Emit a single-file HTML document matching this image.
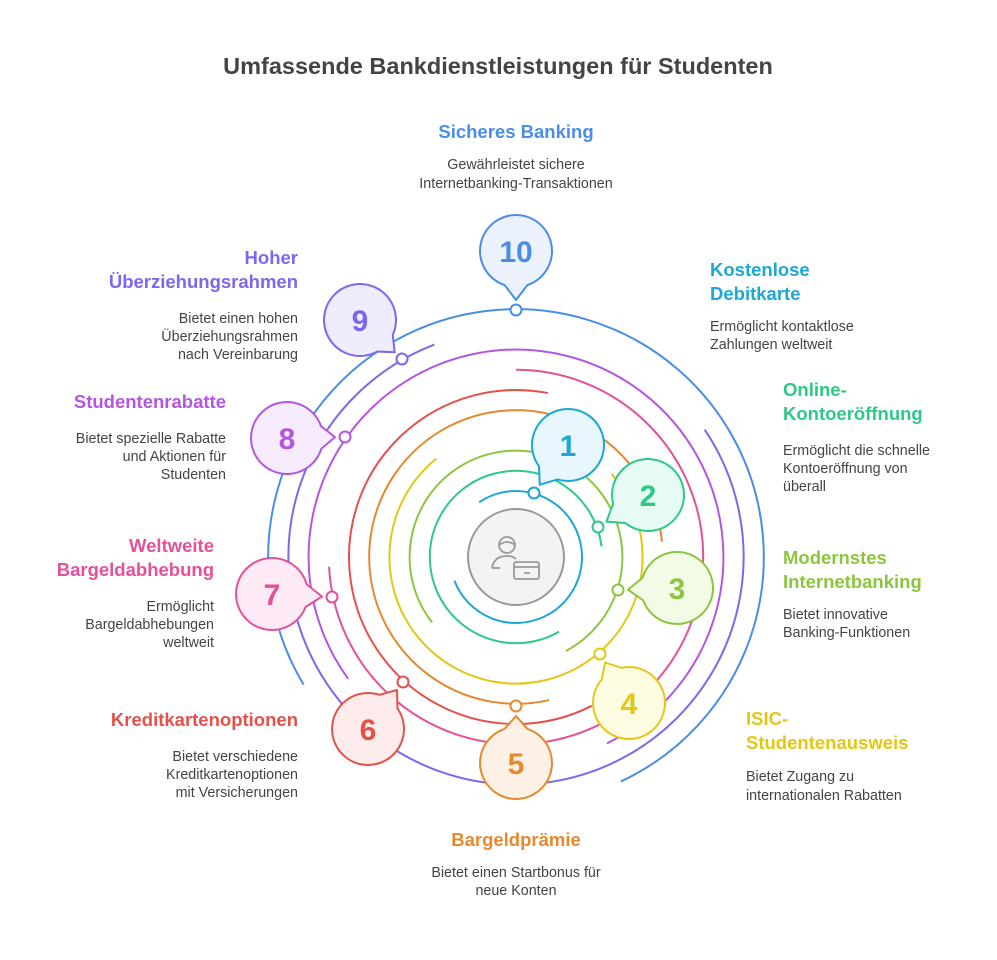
<!DOCTYPE html>
<html><head><meta charset="utf-8"><style>
html,body{margin:0;padding:0;background:#fff;}
svg{display:block;font-family:"Liberation Sans",sans-serif;}
.h{font-weight:bold;font-size:18.5px;}
.d{font-size:14.3px;fill:#444;}
.n{font-weight:bold;font-size:30px;text-anchor:middle;}
</style></head><body>
<svg id="s" width="997" height="960" viewBox="0 0 997 960" xmlns="http://www.w3.org/2000/svg">
<rect width="997" height="960" fill="#fff"/>
<text x="498" y="74" text-anchor="middle" font-weight="bold" font-size="23.5" fill="#444">Umfassende Bankdienstleistungen für Studenten</text>
<g id="arcs" fill="none" stroke-width="2"></g>
<circle cx="516" cy="557" r="48" fill="#f3f3f3" stroke="#999" stroke-width="2"/>
<g fill="none" stroke="#999" stroke-width="1.8">
<circle cx="507" cy="545" r="8"/>
<path d="M499 545 q8 -6 16 0"/>
<path d="M492 568 q2 -12 15 -12 q6 0 9 3"/>
<path d="M492 568 h8"/>
<rect x="514" y="562" width="25" height="17" rx="2"/>
<path d="M514 567 h25 M524 573 h6"/>
</g>
<g id="bub"></g>
<g text-anchor="middle">
<text class="h" x="516" y="138" fill="#4a8de6">Sicheres Banking</text>
<text class="d" x="516" y="169">Gewährleistet sichere</text>
<text class="d" x="516" y="188">Internetbanking-Transaktionen</text>
<text class="h" x="516" y="846" fill="#e6892e">Bargeldprämie</text>
<text class="d" x="516" y="877">Bietet einen Startbonus für</text>
<text class="d" x="516" y="895">neue Konten</text>
</g>
<g text-anchor="start">
<text class="h" x="710" y="276" fill="#1ba8d5">Kostenlose</text>
<text class="h" x="710" y="300" fill="#1ba8d5">Debitkarte</text>
<text class="d" x="710" y="331">Ermöglicht kontaktlose</text>
<text class="d" x="710" y="349">Zahlungen weltweit</text>
<text class="h" x="783" y="396" fill="#2ec986">Online-</text>
<text class="h" x="783" y="420" fill="#2ec986">Kontoeröffnung</text>
<text class="d" x="783" y="455">Ermöglicht die schnelle</text>
<text class="d" x="783" y="473">Kontoeröffnung von</text>
<text class="d" x="783" y="491">überall</text>
<text class="h" x="783" y="564" fill="#8cc63e">Modernstes</text>
<text class="h" x="783" y="588" fill="#8cc63e">Internetbanking</text>
<text class="d" x="783" y="619">Bietet innovative</text>
<text class="d" x="783" y="637">Banking-Funktionen</text>
<text class="h" x="746" y="725" fill="#e2c814">ISIC-</text>
<text class="h" x="746" y="749" fill="#e2c814">Studentenausweis</text>
<text class="d" x="746" y="781">Bietet Zugang zu</text>
<text class="d" x="746" y="800">internationalen Rabatten</text>
</g>
<g text-anchor="end">
<text class="h" x="298" y="726" fill="#e5504b">Kreditkartenoptionen</text>
<text class="d" x="298" y="761">Bietet verschiedene</text>
<text class="d" x="298" y="779">Kreditkartenoptionen</text>
<text class="d" x="298" y="797">mit Versicherungen</text>
<text class="h" x="214" y="552" fill="#e4509a">Weltweite</text>
<text class="h" x="214" y="576" fill="#e4509a">Bargeldabhebung</text>
<text class="d" x="214" y="611">Ermöglicht</text>
<text class="d" x="214" y="629">Bargeldabhebungen</text>
<text class="d" x="214" y="647">weltweit</text>
<text class="h" x="226" y="408" fill="#b356e0">Studentenrabatte</text>
<text class="d" x="226" y="443">Bietet spezielle Rabatte</text>
<text class="d" x="226" y="461">und Aktionen für</text>
<text class="d" x="226" y="479">Studenten</text>
<text class="h" x="298" y="264" fill="#7b68ee">Hoher</text>
<text class="h" x="298" y="288" fill="#7b68ee">Überziehungsrahmen</text>
<text class="d" x="298" y="323">Bietet einen hohen</text>
<text class="d" x="298" y="341">Überziehungsrahmen</text>
<text class="d" x="298" y="359">nach Vereinbarung</text>
</g>
<g id="nums"></g>
</svg>
<script>
var NS="http://www.w3.org/2000/svg",cx=516,cy=557;
var C=["#1ba8d5","#2ec986","#8cc63e","#e2c814","#e6892e","#e5504b","#e4509a","#b356e0","#7b68ee","#4a8de6"];
var F=["#e8f7fd","#e6fbf1","#f3fbe6","#fdfbe0","#fdf1e6","#fdeceb","#fdeaf4","#f6ecfd","#efedfd","#ebf2fd"];
var A=[[236,519],[60,353],[142,422],[319,591],[77,354],[63,281],[270,537],[144,424],[326,609],[149,425]];
var D=[[534,493],[598,527],[618,590],[600,654],[516,706],[403,682],[332,597],[345,437],[402,359],[516,310]];
var B=[[568,445],[648,495],[677,588],[629,703],[516,763],[368,729],[272,594],[287,438],[360,320],[516,251]];
function el(t,a,p){var e=document.createElementNS(NS,t);for(var k in a)e.setAttribute(k,a[k]);p.appendChild(e);return e;}
var ga=document.getElementById("arcs"),gb=document.getElementById("bub"),gn=document.getElementById("nums");
for(var i=0;i<10;i++){
 var r=66+20.2*i,a0=A[i][0]*Math.PI/180,a1=A[i][1]*Math.PI/180;
 var x0=cx+r*Math.cos(a0),y0=cy+r*Math.sin(a0),x1=cx+r*Math.cos(a1),y1=cy+r*Math.sin(a1);
 var lg=(A[i][1]-A[i][0])>180?1:0;
 el("path",{d:"M"+x0+" "+y0+" A"+r+" "+r+" 0 "+lg+" 1 "+x1+" "+y1,stroke:C[i]},ga);
 var bx=B[i][0],by=B[i][1],dx=D[i][0]-bx,dy=D[i][1]-by,L=Math.sqrt(dx*dx+dy*dy),ux=dx/L,uy=dy/L;
 var R=36,ang=Math.atan2(uy,ux),s=0.32;
 var p1x=bx+R*Math.cos(ang+s),p1y=by+R*Math.sin(ang+s),p2x=bx+R*Math.cos(ang-s),p2y=by+R*Math.sin(ang-s);
 var tx=D[i][0]-ux*10,ty=D[i][1]-uy*10;
 el("path",{d:"M"+p1x+" "+p1y+" A"+R+" "+R+" 0 1 1 "+p2x+" "+p2y+" L"+tx+" "+ty+" Z",fill:F[i],stroke:C[i],"stroke-width":2,"stroke-linejoin":"round"},gb);
 el("circle",{cx:D[i][0],cy:D[i][1],r:5.5,fill:"#fff",stroke:C[i],"stroke-width":2},gb);
 var t=el("text",{x:bx,y:by+11,"class":"n",fill:C[i]},gn);t.textContent=String(i+1);
}
</script>
</body></html>
